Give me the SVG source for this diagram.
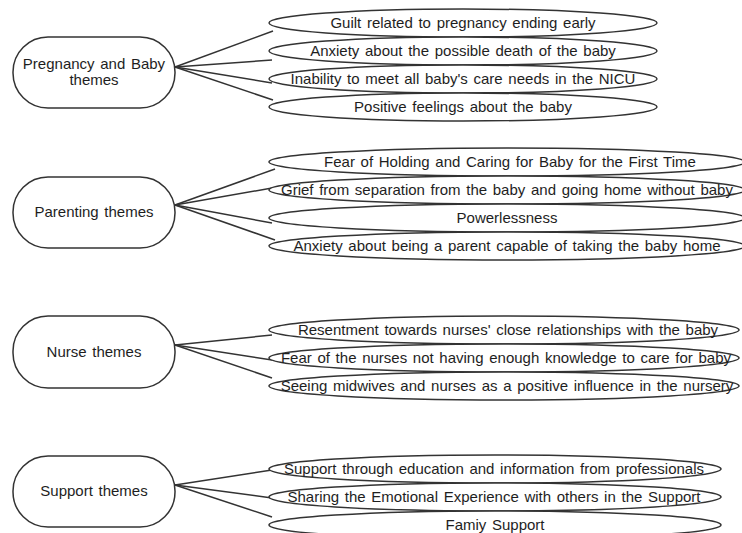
<svg xmlns="http://www.w3.org/2000/svg" width="742" height="533" viewBox="0 0 742 533">
<style>
.node{fill:#fff;stroke:#333;stroke-width:1.5}
.ell{fill:#fff;stroke:#333;stroke-width:1.5}
.t{font-family:"Liberation Sans",Arial,sans-serif;font-size:15px;word-spacing:1.5px;fill:#1e1e1e;text-anchor:middle}
.c{stroke:#333;stroke-width:1.5;fill:none}
</style>
<rect width="742" height="533" fill="#fff"/>
<g id="connectors">
<line class="c" x1="175" y1="67" x2="273" y2="31"/>
<line class="c" x1="175" y1="67" x2="272" y2="60"/>
<line class="c" x1="175" y1="67" x2="272" y2="83"/>
<line class="c" x1="175" y1="67" x2="273" y2="100"/>
<line class="c" x1="175" y1="205" x2="275" y2="169"/>
<line class="c" x1="175" y1="205" x2="272" y2="188"/>
<line class="c" x1="175" y1="205" x2="272" y2="223"/>
<line class="c" x1="175" y1="205" x2="275" y2="240"/>
<line class="c" x1="175" y1="345" x2="272" y2="335"/>
<line class="c" x1="175" y1="345" x2="272" y2="360"/>
<line class="c" x1="175" y1="345" x2="272" y2="378"/>
<line class="c" x1="175" y1="485" x2="272" y2="470"/>
<line class="c" x1="175" y1="485" x2="272" y2="498"/>
<line class="c" x1="175" y1="485" x2="272" y2="517"/>
</g>
<g id="n-pregnancy"><rect class="node" x="13" y="37" width="162" height="71" rx="35"/><text class="t" x="94" y="69">Pregnancy and Baby</text><text class="t" x="94" y="85">themes</text></g>
<g id="n-parenting"><rect class="node" x="13" y="177" width="162" height="71" rx="35"/><text class="t" x="94" y="217">Parenting themes</text></g>
<g id="n-nurse"><rect class="node" x="13" y="316" width="162" height="72" rx="35"/><text class="t" x="94" y="357">Nurse themes</text></g>
<g id="n-support"><rect class="node" x="13" y="456" width="162" height="71" rx="35"/><text class="t" x="94" y="496">Support themes</text></g>
<g id="e1-1"><ellipse class="ell" cx="463" cy="23" rx="194" ry="14"/><text class="t" x="463" y="28">Guilt related to pregnancy ending early</text></g>
<g id="e1-2"><ellipse class="ell" cx="463" cy="51" rx="194" ry="14"/><text class="t" x="463" y="56">Anxiety about the possible death of the baby</text></g>
<g id="e1-3"><ellipse class="ell" cx="463" cy="79" rx="194" ry="14"/><text class="t" x="463" y="84">Inability to meet all baby's care needs in the NICU</text></g>
<g id="e1-4"><ellipse class="ell" cx="463" cy="107" rx="194" ry="14"/><text class="t" x="463" y="112">Positive feelings about the baby</text></g>
<g id="e2-1"><ellipse class="ell" cx="507" cy="162" rx="238" ry="14"/><text class="t" x="510" y="167">Fear of Holding and Caring for Baby for the First Time</text></g>
<g id="e2-2"><ellipse class="ell" cx="507" cy="190" rx="238" ry="14"/><text class="t" x="507" y="195">Grief from separation from the baby and going home without baby</text></g>
<g id="e2-3"><ellipse class="ell" cx="507" cy="218" rx="238" ry="14"/><text class="t" x="507" y="223">Powerlessness</text></g>
<g id="e2-4"><ellipse class="ell" cx="507" cy="246" rx="238" ry="14"/><text class="t" x="507" y="251">Anxiety about being a parent capable of taking the baby home</text></g>
<g id="e3-1"><ellipse class="ell" cx="504" cy="330" rx="235" ry="14"/><text class="t" x="508" y="335">Resentment towards nurses' close relationships with the baby</text></g>
<g id="e3-2"><ellipse class="ell" cx="504" cy="358" rx="235" ry="14"/><text class="t" x="506" y="363">Fear of the nurses not having enough knowledge to care for baby</text></g>
<g id="e3-3"><ellipse class="ell" cx="504" cy="386" rx="235" ry="14"/><text class="t" x="507" y="391">Seeing midwives and nurses as a positive influence in the nursery</text></g>
<g id="e4-1"><ellipse class="ell" cx="495" cy="469" rx="226" ry="14"/><text class="t" x="494" y="474">Support through education and information from professionals</text></g>
<g id="e4-2"><ellipse class="ell" cx="495" cy="497" rx="226" ry="14"/><text class="t" x="494" y="502">Sharing the Emotional Experience with others in the Support</text></g>
<g id="e4-3"><ellipse class="ell" cx="495" cy="525" rx="226" ry="14"/><text class="t" x="495" y="530">Famiy Support</text></g>
</svg>
